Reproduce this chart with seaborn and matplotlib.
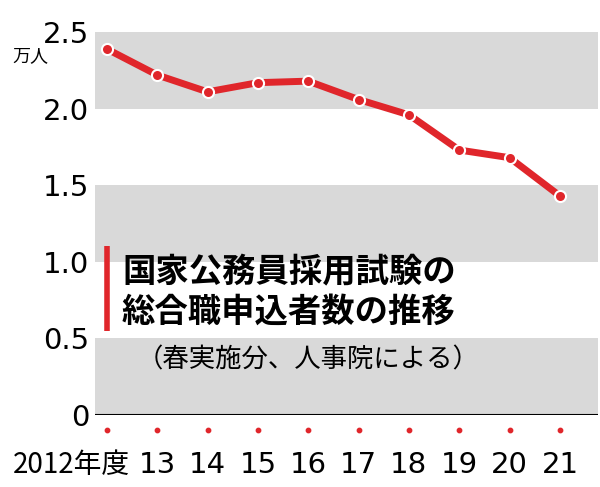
import matplotlib
matplotlib.use("Agg")
import matplotlib.pyplot as plt
import seaborn as sns
import pandas as pd
import numpy as np

years = ["2012", "13", "14", "15", "16", "17", "18", "19", "20", "21"]
values = [2.39, 2.22, 2.11, 2.17, 2.18, 2.06, 1.96, 1.73, 1.68, 1.43]
yticks = [0, 0.5, 1.0, 1.5, 2.0, 2.5]
ylabels = ["0", "0.5", "1.0", "1.5", "2.0", "2.5"]

plt.rcParams["font.family"] = "Noto Sans CJK JP"
red = "#e0262b"
fig = plt.figure(figsize=(6, 4.87), dpi=100)
ax = fig.add_axes([0.158, 0.148, 0.839, 0.786])
df = pd.DataFrame({"x": np.arange(len(years)), "v": values})

for lo in [0, 1.0, 2.0]:
    ax.axhspan(lo, lo + 0.5, color="#d9d9d9", zorder=0, lw=0)
sns.lineplot(data=df, x="x", y="v", ax=ax, color=red, lw=5, marker="o",
             markersize=8, markeredgecolor="white", markeredgewidth=1.5, zorder=3)
ax.set_xlim(-0.24, 9.76)
ax.set_ylim(0, 2.5)
ax.set_yticks(yticks)
ax.set_yticklabels(ylabels, fontsize=21, family="DejaVu Sans")
ax.tick_params(axis="y", length=0, pad=4)
ax.set_xticks([])
ax.set_xlabel(""); ax.set_ylabel("")
for s in ax.spines.values():
    s.set_visible(False)
ax.axhline(0, color="black", lw=1.5, zorder=4)
ax.scatter(df["x"], [-0.1] * len(years), color=red, s=10, clip_on=False, zorder=4)
for i, y in enumerate(years):
    if i == 0:
        ax.text(i + 0.45, -0.33, "2012年度", ha="right", va="center", fontsize=20, clip_on=False)
    else:
        ax.text(i, -0.33, y, ha="center", va="center", fontsize=21,
                family="DejaVu Sans", clip_on=False)
fig.text(0.02, 0.875, "万人", fontsize=13)
ax.plot([0.0, 0.0], [0.55, 1.1], color=red, lw=4, solid_capstyle="butt")
ax.text(0.3, 0.93, "国家公務員採用試験の", fontsize=24, fontweight="bold", va="center")
ax.text(0.3, 0.67, "総合職申込者数の推移", fontsize=24, fontweight="bold", va="center")
ax.text(0.6, 0.36, "（春実施分、人事院による）", fontsize=19, va="center")
fig.savefig("out.png", dpi=100)
